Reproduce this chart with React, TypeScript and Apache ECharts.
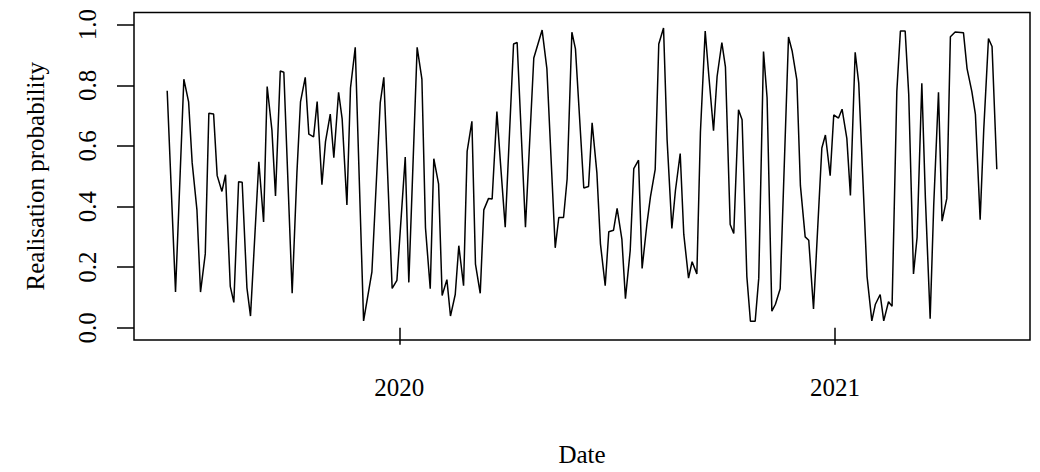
import React, { useEffect, useRef } from "react";
import * as echarts from "echarts";

const dates: string[] = [
  "2019-06-20", "2019-06-27", "2019-07-04", "2019-07-08", "2019-07-11", "2019-07-15", "2019-07-18", "2019-07-22",
  "2019-07-25", "2019-07-29", "2019-08-01", "2019-08-05", "2019-08-08", "2019-08-12", "2019-08-15", "2019-08-19",
  "2019-08-22", "2019-08-26", "2019-08-29", "2019-09-05", "2019-09-09", "2019-09-12", "2019-09-16", "2019-09-19",
  "2019-09-23", "2019-09-26", "2019-10-03", "2019-10-07", "2019-10-10", "2019-10-14", "2019-10-17", "2019-10-21",
  "2019-10-24", "2019-10-28", "2019-10-31", "2019-11-04", "2019-11-07", "2019-11-11", "2019-11-14", "2019-11-18",
  "2019-11-21", "2019-11-25", "2019-12-02", "2019-12-09", "2019-12-16", "2019-12-19", "2019-12-26", "2019-12-30",
  "2020-01-06", "2020-01-09", "2020-01-16", "2020-01-20", "2020-01-23", "2020-01-27", "2020-01-30", "2020-02-03",
  "2020-02-06", "2020-02-10", "2020-02-13", "2020-02-17", "2020-02-20", "2020-02-24", "2020-02-27", "2020-03-02",
  "2020-03-05", "2020-03-09", "2020-03-12", "2020-03-16", "2020-03-19", "2020-03-23", "2020-03-26", "2020-03-30",
  "2020-04-06", "2020-04-09", "2020-04-16", "2020-04-23", "2020-04-30", "2020-05-04", "2020-05-11", "2020-05-14",
  "2020-05-18", "2020-05-21", "2020-05-25", "2020-05-28", "2020-06-04", "2020-06-08", "2020-06-11", "2020-06-15",
  "2020-06-18", "2020-06-22", "2020-06-25", "2020-06-29", "2020-07-02", "2020-07-06", "2020-07-09", "2020-07-13",
  "2020-07-16", "2020-07-20", "2020-07-23", "2020-07-27", "2020-07-30", "2020-08-03", "2020-08-06", "2020-08-10",
  "2020-08-13", "2020-08-17", "2020-08-20", "2020-08-24", "2020-08-27", "2020-08-31", "2020-09-03", "2020-09-07",
  "2020-09-10", "2020-09-14", "2020-09-17", "2020-09-21", "2020-09-24", "2020-09-28", "2020-10-01", "2020-10-05",
  "2020-10-08", "2020-10-12", "2020-10-15", "2020-10-19", "2020-10-22", "2020-10-26", "2020-10-29", "2020-11-02",
  "2020-11-05", "2020-11-09", "2020-11-12", "2020-11-16", "2020-11-23", "2020-11-26", "2020-11-30", "2020-12-03",
  "2020-12-07", "2020-12-10", "2020-12-14", "2020-12-21", "2020-12-24", "2020-12-28", "2020-12-31", "2021-01-04",
  "2021-01-07", "2021-01-11", "2021-01-14", "2021-01-18", "2021-01-21", "2021-01-28", "2021-02-01", "2021-02-04",
  "2021-02-08", "2021-02-11", "2021-02-15", "2021-02-18", "2021-02-22", "2021-02-25", "2021-03-01", "2021-03-04",
  "2021-03-08", "2021-03-11", "2021-03-15", "2021-03-18", "2021-03-22", "2021-03-25", "2021-03-29", "2021-04-01",
  "2021-04-05", "2021-04-08", "2021-04-12", "2021-04-19", "2021-04-22", "2021-04-26", "2021-04-29", "2021-05-03",
  "2021-05-06", "2021-05-10", "2021-05-13", "2021-05-17",
];

const probability: number[] = [
  0.782, 0.118, 0.820, 0.745, 0.544, 0.389, 0.118, 0.244,
  0.708, 0.705, 0.502, 0.450, 0.505, 0.137, 0.084, 0.482,
  0.480, 0.132, 0.039, 0.548, 0.349, 0.796, 0.652, 0.435,
  0.847, 0.843, 0.114, 0.512, 0.745, 0.826, 0.639, 0.630,
  0.746, 0.472, 0.614, 0.705, 0.561, 0.777, 0.689, 0.405,
  0.791, 0.925, 0.023, 0.185, 0.743, 0.826, 0.130, 0.157,
  0.563, 0.150, 0.925, 0.820, 0.330, 0.129, 0.558, 0.475,
  0.107, 0.159, 0.039, 0.110, 0.271, 0.139, 0.582, 0.681,
  0.210, 0.114, 0.389, 0.427, 0.425, 0.713, 0.544, 0.332,
  0.936, 0.941, 0.332, 0.890, 0.982, 0.855, 0.264, 0.364,
  0.364, 0.491, 0.975, 0.920, 0.461, 0.466, 0.676, 0.512,
  0.277, 0.139, 0.317, 0.322, 0.394, 0.293, 0.096, 0.255,
  0.525, 0.553, 0.196, 0.341, 0.432, 0.523, 0.936, 0.989,
  0.620, 0.328, 0.453, 0.575, 0.309, 0.164, 0.218, 0.178,
  0.646, 0.979, 0.834, 0.650, 0.829, 0.941, 0.861, 0.341,
  0.311, 0.719, 0.686, 0.169, 0.022, 0.022, 0.164, 0.911,
  0.759, 0.055, 0.078, 0.129, 0.959, 0.914, 0.818, 0.469,
  0.300, 0.289, 0.062, 0.593, 0.636, 0.502, 0.702, 0.692,
  0.721, 0.625, 0.437, 0.909, 0.807, 0.169, 0.023, 0.078,
  0.110, 0.023, 0.086, 0.071, 0.780, 0.979, 0.979, 0.770,
  0.178, 0.298, 0.807, 0.427, 0.030, 0.405, 0.777, 0.352,
  0.427, 0.960, 0.976, 0.973, 0.855, 0.780, 0.705, 0.357,
  0.652, 0.954, 0.928, 0.523,
];

const yTickValues: number[] = [0, 0.2, 0.4, 0.6, 0.8, 1.0];
const yTickLabels: string[] = ["0.0", "0.2", "0.4", "0.6", "0.8", "1.0"];
const xTickDates: string[] = ["2020-01-01", "2021-01-01"];
const xTickLabels: string[] = ["2020", "2021"];
const xTitle = "Date";
const yTitle = "Realisation probability";

function utc(s: string): number {
  const [y, m, d] = s.split("-").map(Number);
  return Date.UTC(y, m - 1, d);
}

const FONT = "Liberation Serif";

export default function App() {
  const ref = useRef<HTMLDivElement>(null);
  useEffect(() => {
    if (!ref.current) return;
    const chart = echarts.init(ref.current, undefined, { renderer: "svg" });
    const times = dates.map(utc);
    const tMin = times[0];
    const tMax = times[times.length - 1];
    const pad = (tMax - tMin) * 0.04;
    const xTicks = xTickDates.map(utc);
    const xLabelFor = (v: number) => {
      let best = 0;
      xTicks.forEach((t, i) => {
        if (Math.abs(t - v) < Math.abs(xTicks[best] - v)) best = i;
      });
      return xTickLabels[best];
    };
    const yLabelFor = (v: number) => {
      let best = 0;
      yTickValues.forEach((t, i) => {
        if (Math.abs(t - v) < Math.abs(yTickValues[best] - v)) best = i;
      });
      return yTickLabels[best];
    };

    const textBase = { fontFamily: FONT, fontSize: 25, color: "#000", fontWeight: "normal" as const };

    chart.setOption({
      animation: false,
      backgroundColor: "#fff",
      grid: {
        left: 134,
        right: 10,
        top: 12.5,
        bottom: 123.5,
        show: true,
        borderColor: "#000",
        borderWidth: 1.5,
        backgroundColor: "transparent",
        containLabel: false,
      },
      xAxis: {
        type: "value",
        min: tMin - pad,
        max: tMax + pad,
        scale: true,
        name: xTitle,
        nameLocation: "middle",
        nameGap: 102,
        nameTextStyle: { ...textBase, lineHeight: 25 },
        axisLine: { show: false },
        splitLine: { show: false },
        axisTick: {
          show: true,
          length: 17,
          lineStyle: { color: "#000", width: 1.5 },
          customValues: xTicks,
        },
        axisLabel: {
          ...textBase,
          lineHeight: 25,
          margin: 35,
          customValues: xTicks,
          formatter: (v: number) => xLabelFor(v),
        },
      },
      yAxis: {
        type: "value",
        min: -0.04,
        max: 1.04,
        name: yTitle,
        nameLocation: "middle",
        nameGap: 86,
        nameTextStyle: { ...textBase, lineHeight: 25 },
        axisLine: { show: false },
        splitLine: { show: false },
        axisTick: {
          show: true,
          length: 17,
          lineStyle: { color: "#000", width: 1.5 },
          customValues: yTickValues,
        },
        axisLabel: {
          ...textBase,
          lineHeight: 25,
          rotate: 90,
          margin: 34,
          customValues: yTickValues,
          formatter: (v: number) => yLabelFor(v),
        },
      },
      series: [
        {
          type: "line",
          data: times.map((t, i) => [t, probability[i]]),
          showSymbol: false,
          symbol: "none",
          lineStyle: { color: "#000", width: 1.5 },
          silent: true,
        },
      ],
    });
    return () => chart.dispose();
  }, []);
  return (
    <div
      ref={ref}
      style={{ position: "fixed", left: 0, top: 0, width: 1040, height: 472, background: "#fff" }}
    />
  );
}
